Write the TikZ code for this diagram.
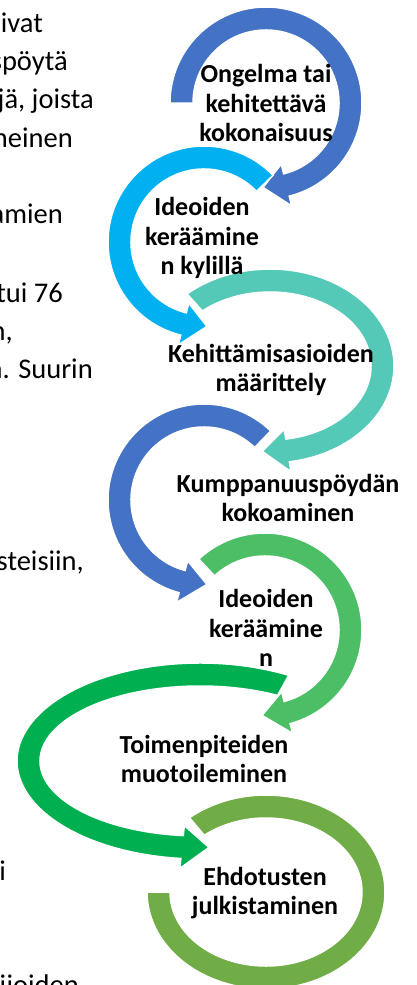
\documentclass[tikz,border=0pt]{standalone}
\usepackage{fontspec}
\setmainfont{Carlito}
\usepackage{tikz}
\definecolor{blueA}{HTML}{4472C4}
\definecolor{skyA}{HTML}{00B0F0}
\definecolor{tealA}{HTML}{54C9B7}
\definecolor{greenA}{HTML}{4CBF66}
\definecolor{greenB}{HTML}{00B050}
\definecolor{oliveA}{HTML}{70AD47}
\newcommand{\bandw}{23}
\newcommand{\headx}{10}
\newcommand{\ringarrow}[7]{%
  \fill[#7, draw=white, line width=1.5pt, shift={(#1)}]
    (#4:#2 and #3) arc[start angle=#4, end angle=#5, x radius=#2, y radius=#3]
    -- (#5:{#2+\headx} and {#3+\headx})
    -- (#6:{#2-\bandw/2} and {#3-\bandw/2})
    -- (#5:{#2-\bandw-\headx} and {#3-\bandw-\headx})
    -- (#5:{#2-\bandw} and {#3-\bandw})
    arc[start angle=#5, end angle=#4, x radius={#2-\bandw}, y radius={#3-\bandw}]
    -- cycle;}

\begin{document}
\begin{tikzpicture}[x=1pt, y=1pt,
    lbl/.style={font=\fontsize{26}{29.5}\selectfont\bfseries, align=center, inner sep=0pt},
    body/.style={font=\fontsize{28.5}{38.5}\selectfont, anchor=base east, inner sep=0pt}]
      \useasboundingbox (0,0) rectangle (416,-985);
      \clip (0,0) rectangle (416,-985);
      \node[body] (b1) at (43, -32) {ivat};
      \node[body] (b2) at (68, -70) {uuspöytä};
      \node[body] (b3) at (94, -108) {jä, joista};
      \node[body] (b4) at (73, -147) {neinen};
      \node[body] (b5) at (63, -223) {amien};
      \node[body] (b6) at (63, -302) {tui 76};
      \node[body] (b7) at (13, -340) {n,};
      \node[body] (b8) at (93, -378) {n. Suurin};
      \node[body] (b9) at (84, -570) {steisiin,};
      \node[body] (b10) at (6, -880) {i};
      \node[body] (b11) at (79, -994) {ijoiden};
      \coordinate (c1) at (266, -103);
      \coordinate (c2) at (204, -242);
      \coordinate (c3) at (270, -366);
      \coordinate (c4) at (204, -500);
      \coordinate (c5) at (265, -630);
      \coordinate (c6) at (200, -761);
      \coordinate (c7) at (266, -892);
      \ringarrow{c1}{96}{96}{180}{-76}{-92}{blueA}
      \ringarrow{c2}{96}{96}{44}{256}{272}{skyA}
      \ringarrow{c3}{124}{97}{132}{-81}{-94}{tealA}
      \ringarrow{c4}{96}{96}{46}{255}{272}{blueA}
      \ringarrow{c5}{97}{97}{133}{-75}{-92}{greenA}
      \ringarrow{c6}{183}{98}{61}{264}{273}{greenB}
      \fill[oliveA, draw=white, line width=1.5pt, shift={(c7)}]
        (130:119 and 97) arc[start angle=130, end angle=-180, x radius=119, y radius=97]
        -- (180:96 and 74) arc[start angle=-180, end angle=130, x radius=96, y radius=74] -- cycle;
      \node[lbl] (og) at (266, -103) {Ongelma tai\\kehitettävä\\kokonaisuus};
      \node[lbl] (ik) at (202, -238) {Ideoiden\\keräämine\\n kylillä};
      \node[lbl] (km) at (271, -370) {Kehittämisasioiden\\määrittely};
      \node[lbl] (kp) at (288, -498) {Kumppanuuspöydän\\kokoaminen};
      \node[lbl] (id) at (266, -628) {Ideoiden\\keräämine\\n};
      \node[lbl] (tm) at (204, -759) {Toimenpiteiden\\muotoileminen};
      \node[lbl] (ej) at (265, -893) {Ehdotusten\\julkistaminen};
    \end{tikzpicture}
\end{document}
